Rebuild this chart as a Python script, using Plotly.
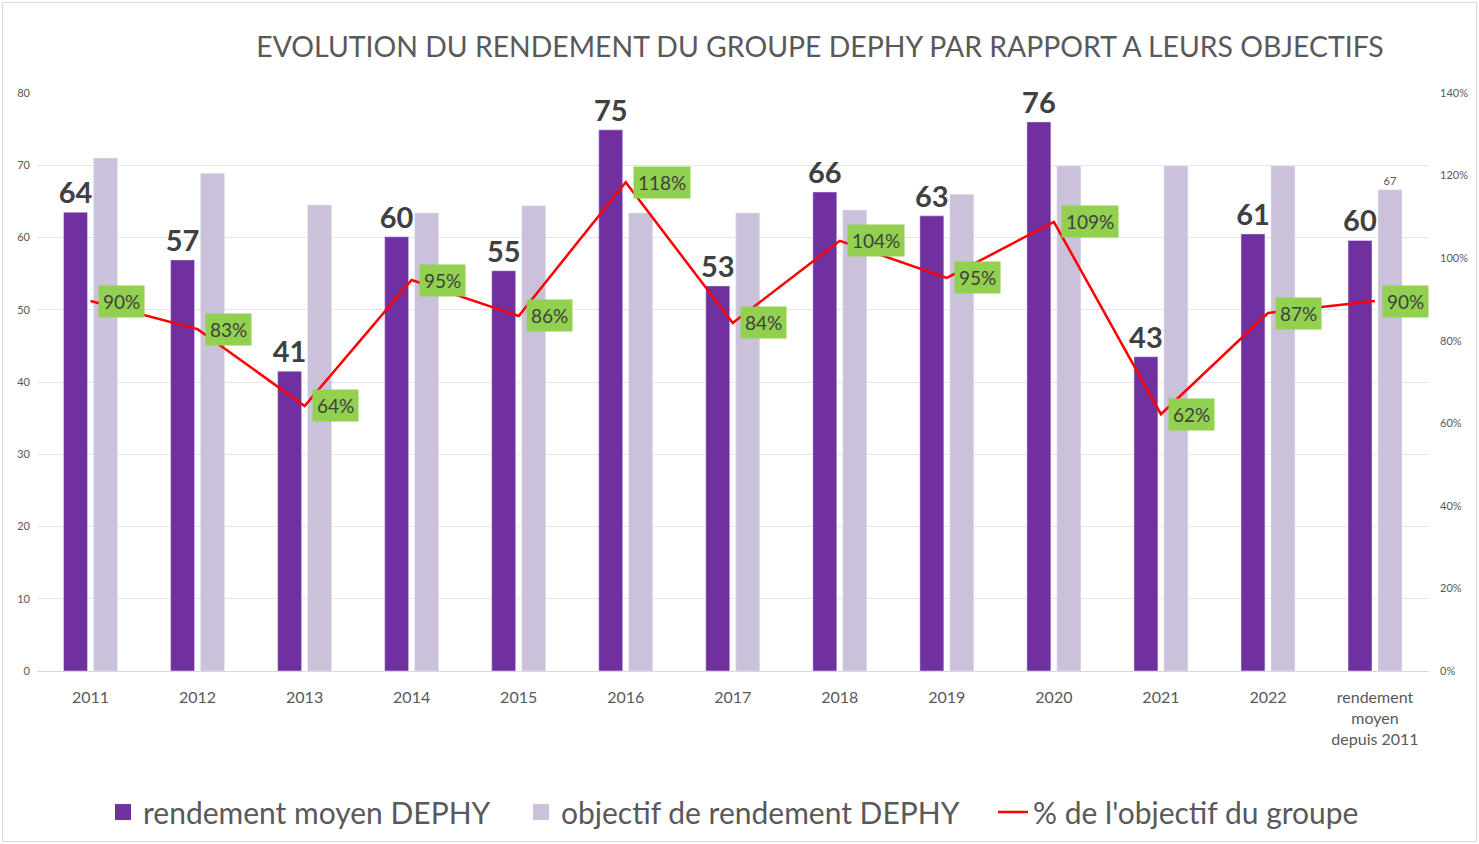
import plotly.graph_objects as go

categories = ["2011", "2012", "2013", "2014", "2015", "2016", "2017", "2018",
              "2019", "2020", "2021", "2022", "rendement<br>moyen<br>depuis 2011"]
rendement = [63.5, 56.9, 41.5, 60.1, 55.4, 74.9, 53.3, 66.3, 63.0, 76.0, 43.5, 60.5, 59.6]
rendement_labels = ["64", "57", "41", "60", "55", "75", "53", "66", "63", "76", "43", "61", "60"]
objectif = [71.0, 68.9, 64.5, 63.4, 64.4, 63.4, 63.4, 63.8, 66.0, 69.9, 69.9, 69.9, 66.6]
objectif_labels = ["", "", "", "", "", "", "", "", "", "", "", "", "67"]
pct_objectif = [0.896, 0.828, 0.642, 0.947, 0.86, 1.184, 0.843, 1.042, 0.952, 1.088, 0.622, 0.867, 0.896]
pct_labels = ["90%", "83%", "64%", "95%", "86%", "118%", "84%", "104%", "95%", "109%", "62%", "87%", "90%"]
series_names = ["rendement moyen DEPHY", "objectif de rendement DEPHY", "% de l'objectif du groupe"]

FONT = "Lato"
GREY = "#595959"
DARK = "#404040"
PURPLE = "#7030A0"
LAVENDER = "#CCC1DA"
RED = "#FF0000"

fig = go.Figure()
fig.add_trace(go.Bar(
    x=categories, y=rendement, name=series_names[0], showlegend=False,
    marker=dict(color=PURPLE),
    text=rendement_labels, textposition="outside", constraintext="none",
    textfont=dict(size=29, color=DARK, family=FONT, weight="bold"),
    cliponaxis=False, hoverinfo="skip",
))
fig.add_trace(go.Bar(
    x=categories, y=objectif, name=series_names[1], showlegend=False,
    marker=dict(color=LAVENDER),
    text=objectif_labels, textposition="outside", constraintext="none",
    textfont=dict(size=11, color=GREY, family=FONT),
    cliponaxis=False, hoverinfo="skip",
))
fig.add_trace(go.Scatter(
    x=categories, y=pct_objectif, name=series_names[2], legend="legend3",
    mode="lines", line=dict(color=RED, width=2.5), yaxis="y2",
    hoverinfo="skip",
))

# legend swatches for the bar series (square symbols, like the reference)
fig.add_trace(go.Scatter(
    x=[None], y=[None], name=series_names[0], legend="legend",
    mode="markers", marker=dict(symbol="square", size=16, color=PURPLE),
))
fig.add_trace(go.Scatter(
    x=[None], y=[None], name=series_names[1], legend="legend2",
    mode="markers", marker=dict(symbol="square", size=16, color=LAVENDER),
))

for i, (v, t) in enumerate(zip(pct_objectif, pct_labels)):
    fig.add_annotation(
        x=i, y=v, xref="x", yref="y2", text=t, showarrow=False,
        xanchor="left", yanchor="middle", xshift=7,
        font=dict(size=19, color=DARK, family=FONT),
        bgcolor="#92D050", borderpad=4,
    )

# outer border of the chart area
fig.add_shape(
    type="rect", xref="paper", yref="paper",
    x0=(2.5 - 37) / 1392, x1=(1476.5 - 37) / 1392,
    y0=(671 - 841.5) / 578, y1=(671 - 2.5) / 578,
    line=dict(color="#D9D9D9", width=1), fillcolor="rgba(0,0,0,0)", layer="below",
)

legend_common = dict(
    orientation="h", xanchor="left", y=-0.244, yanchor="middle",
    font=dict(size=30, color=GREY, family=FONT), itemwidth=30,
    bgcolor="rgba(0,0,0,0)",
)

fig.update_layout(
    width=1479, height=844,
    margin=dict(l=37, r=50, t=93, b=173, autoexpand=False),
    paper_bgcolor="white", plot_bgcolor="white",
    barmode="group", bargap=0.44, bargroupgap=0.2,
    font=dict(family=FONT, color=GREY),
    title=dict(
        text="EVOLUTION DU RENDEMENT DU GROUPE DEPHY PAR RAPPORT A LEURS OBJECTIFS",
        x=0.5625, xref="paper", xanchor="center", y=1 - 47 / 844, yanchor="middle",
        font=dict(size=28.4, color=GREY, family=FONT),
    ),
    xaxis=dict(
        type="category", showgrid=False, showline=True, linecolor="#D9D9D9", linewidth=1,
        tickfont=dict(size=16, color=GREY), ticks="", ticklabelstandoff=12,
        automargin=False,
    ),
    yaxis=dict(
        range=[0, 80], dtick=10, showgrid=True, gridcolor="#E6E6E6", zeroline=False,
        tickfont=dict(size=11, color=GREY), ticklabelstandoff=6, automargin=False,
    ),
    yaxis2=dict(
        range=[0, 1.4], dtick=0.2, tickformat=".0%", overlaying="y", side="right",
        showgrid=False, zeroline=False, tickfont=dict(size=11, color=GREY),
        ticklabelstandoff=10, automargin=False,
    ),
    legend=dict(x=(103 - 37) / 1392, **legend_common),
    legend2=dict(x=(521 - 37) / 1392, **legend_common),
    legend3=dict(x=(993 - 37) / 1392, **legend_common),
    showlegend=True,
)

fig.write_html("out.html", post_script="document.body.style.margin='0';",
               config={"displayModeBar": False})
